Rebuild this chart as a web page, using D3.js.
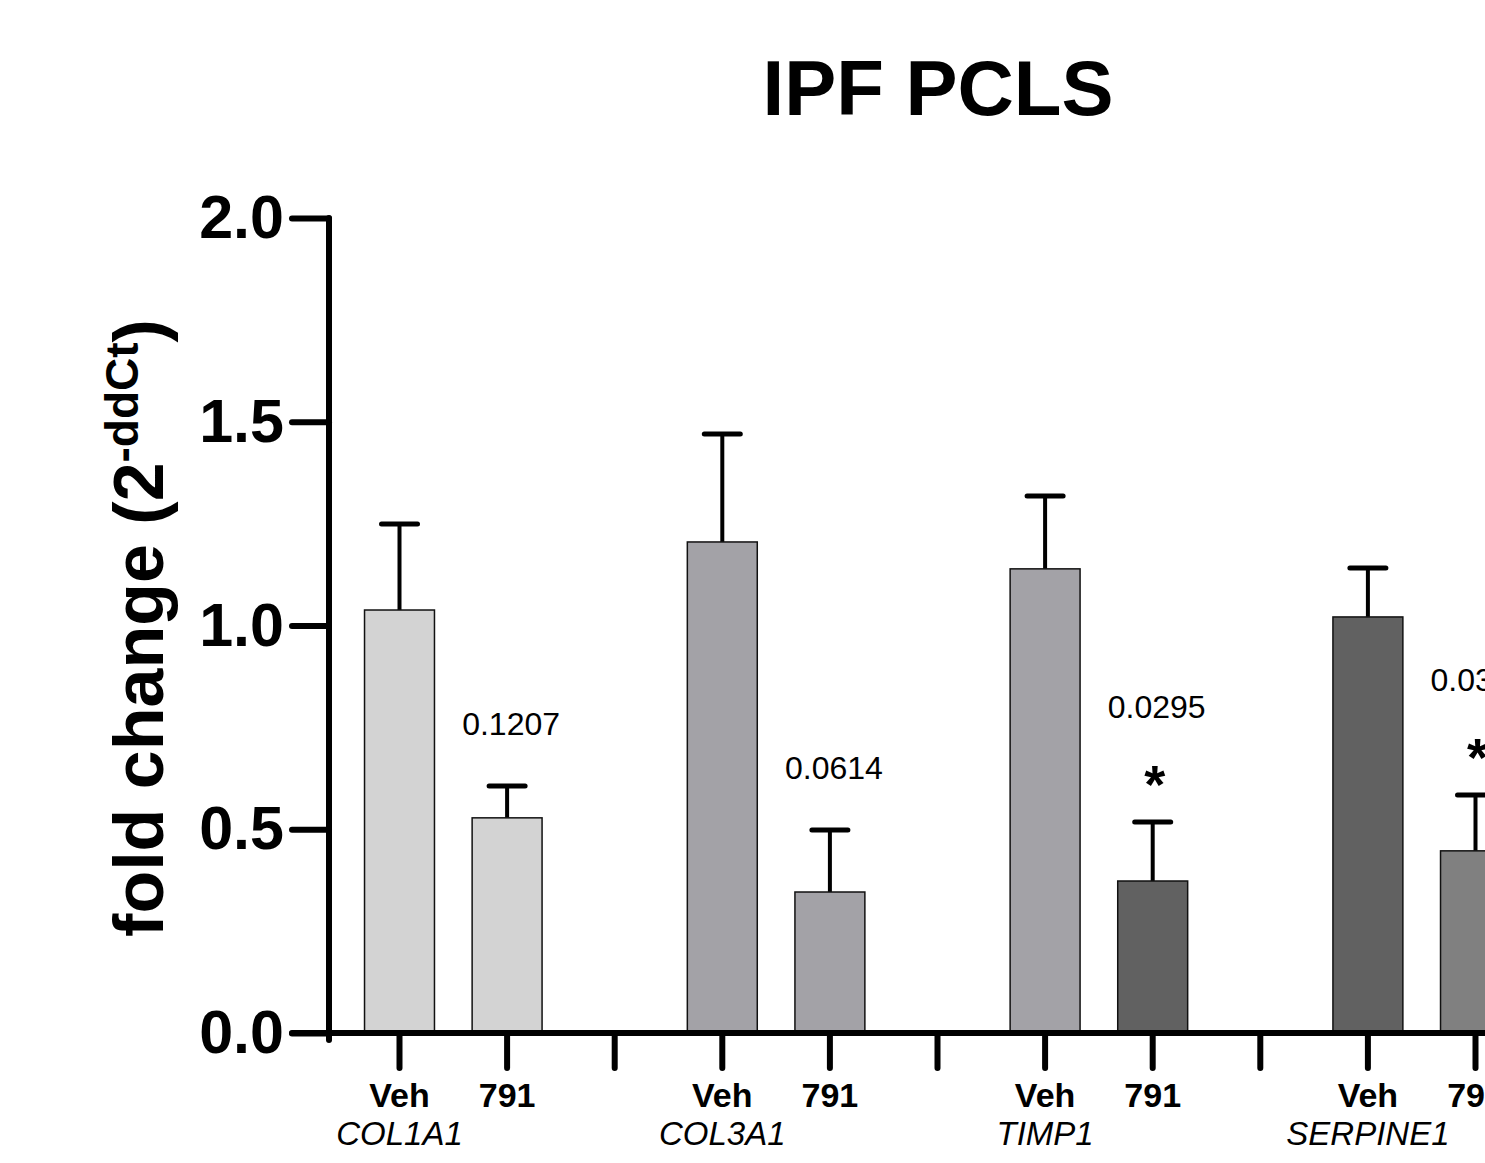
<!DOCTYPE html>
<html>
<head>
<meta charset="utf-8">
<script src="https://cdn.jsdelivr.net/npm/d3@7"></script>
<style>
  body { margin: 0; background: #fff; }
  svg { font-family: "Liberation Sans", Arial, sans-serif; }
</style>
</head>
<body>
<div id="chart"></div>
<script>
// data
var genes = ["COL1A1", "COL3A1", "TIMP1", "SERPINE1"];
var treatments = ["Veh", "791"];
var vehMean = [1.038, 1.205, 1.139, 1.021];
var vehTop = [1.249, 1.470, 1.318, 1.141];   // mean + SEM
var drugMean = [0.528, 0.346, 0.373, 0.447];
var drugTop = [0.606, 0.498, 0.518, 0.584];
var pValues = ["0.1207", "0.0614", "0.0295", "0.0317"];
var significant = [false, false, true, true];
var yTicks = [0, 0.5, 1.0, 1.5, 2.0];
var vehColors = ["#d3d3d3", "#a3a2a7", "#a3a2a7", "#616161"];
var drugColors = ["#d3d3d3", "#a3a2a7", "#616161", "#808080"];

function drawChart(id) {
  var width = 1485, height = 1163;
  var svg = d3.select("#" + id).append("svg")
    .attr("width", width)
    .attr("height", height);

  var y = d3.scaleLinear().domain([0, 2]).range([1033, 218]);

  // one slot per bar plus a separator slot after every gene
  var slots = [];
  genes.forEach(function(g, i) {
    slots.push(g + "|Veh", g + "|791", "sep" + i);
  });
  var step = 107.6;
  var x = d3.scaleBand().domain(slots)
    .range([399.5 - step / 2, 399.5 - step / 2 + step * slots.length])
    .padding(0);
  var barW = x.bandwidth() * 0.65;

  var bars = [];
  genes.forEach(function(g, i) {
    bars.push({slot: g + "|Veh", mean: vehMean[i], top: vehTop[i], color: vehColors[i]});
    bars.push({slot: g + "|791", mean: drugMean[i], top: drugTop[i], color: drugColors[i]});
  });

  // error bars (behind the bars)
  var eb = svg.append("g");
  bars.forEach(function(d) {
    var cx = x(d.slot) + x.bandwidth() / 2;
    eb.append("line")
      .attr("x1", cx).attr("x2", cx)
      .attr("y1", y(d.mean)).attr("y2", y(d.top))
      .attr("stroke", "black").attr("stroke-width", 4);
    eb.append("line")
      .attr("x1", cx - 18).attr("x2", cx + 18)
      .attr("y1", y(d.top)).attr("y2", y(d.top))
      .attr("stroke", "black").attr("stroke-width", 5).attr("stroke-linecap", "round");
  });

  svg.append("g").selectAll("rect")
    .data(bars).enter().append("rect")
    .attr("x", function(d) { return x(d.slot) + (x.bandwidth() - barW) / 2; })
    .attr("y", function(d) { return y(d.mean); })
    .attr("width", barW)
    .attr("height", function(d) { return y(0) - y(d.mean); })
    .attr("fill", function(d) { return d.color; })
    .attr("stroke", "#111")
    .attr("stroke-width", 1.5);

  // p values and stars
  genes.forEach(function(g, i) {
    var cx = x(g + "|791") + x.bandwidth() / 2;
    var top = y(drugTop[i]);
    svg.append("text")
      .attr("x", cx + 4)
      .attr("y", significant[i] ? top - 104 : top - 51)
      .attr("text-anchor", "middle")
      .attr("font-size", 32)
      .text(pValues[i]);
    if (significant[i]) {
      svg.append("text")
        .attr("x", cx + 2)
        .attr("y", top - 49 + 30)
        .attr("text-anchor", "middle")
        .attr("font-size", 54)
        .attr("font-weight", "bold")
        .text("*");
    }
  });

  // y axis
  var yAxis = svg.append("g")
    .attr("transform", "translate(329,0)")
    .call(d3.axisLeft(y).tickValues(yTicks).tickSize(37).tickSizeOuter(0)
      .tickPadding(8).tickFormat(d3.format(".1f")));
  yAxis.select(".domain").remove();
  yAxis.selectAll("line").attr("stroke", "black").attr("stroke-width", 6).attr("stroke-linecap", "round");
  yAxis.selectAll("text").attr("font-size", 61).attr("font-weight", "bold")
    .attr("font-family", "Liberation Sans, Arial, sans-serif").attr("fill", "black");

  svg.append("line")
    .attr("x1", 329).attr("x2", 329)
    .attr("y1", y(2)).attr("y2", y(0) + 7)
    .attr("stroke", "black").attr("stroke-width", 6).attr("stroke-linecap", "round");

  // x axis
  var xAxis = svg.append("g")
    .attr("transform", "translate(0," + y(0) + ")")
    .call(d3.axisBottom(x).tickSize(35).tickSizeOuter(0).tickFormat(""));
  xAxis.select(".domain").remove();
  xAxis.selectAll("line").attr("stroke", "black").attr("stroke-width", 6).attr("stroke-linecap", "round");
  svg.append("line")
    .attr("x1", 292).attr("x2", width + 20)
    .attr("y1", y(0)).attr("y2", y(0))
    .attr("stroke", "black").attr("stroke-width", 6).attr("stroke-linecap", "round");

  // category labels
  genes.forEach(function(g) {
    treatments.forEach(function(t) {
      svg.append("text")
        .attr("x", x(g + "|" + t) + x.bandwidth() / 2)
        .attr("y", 1107)
        .attr("text-anchor", "middle")
        .attr("font-size", 34)
        .attr("font-weight", "bold")
        .text(t);
    });
    svg.append("text")
      .attr("x", x(g + "|Veh") + x.bandwidth() / 2)
      .attr("y", 1145)
      .attr("text-anchor", "middle")
      .attr("font-size", 33)
      .attr("font-style", "italic")
      .text(g);
  });

  // title
  svg.append("text")
    .attr("x", 938).attr("y", 115)
    .attr("text-anchor", "middle")
    .attr("font-size", 78)
    .attr("font-weight", "bold")
    .text("IPF PCLS");

  // y label
  var yl = svg.append("text")
    .attr("transform", "translate(163,628) rotate(-90)")
    .attr("text-anchor", "middle")
    .attr("font-size", 70)
    .attr("font-weight", "bold");
  yl.append("tspan").text("fold change (2");
  yl.append("tspan").attr("dy", -25).attr("font-size", 46).text("-ddCt");
  yl.append("tspan").attr("dy", 25).text(")");
}

drawChart("chart");
</script>
</body>
</html>
